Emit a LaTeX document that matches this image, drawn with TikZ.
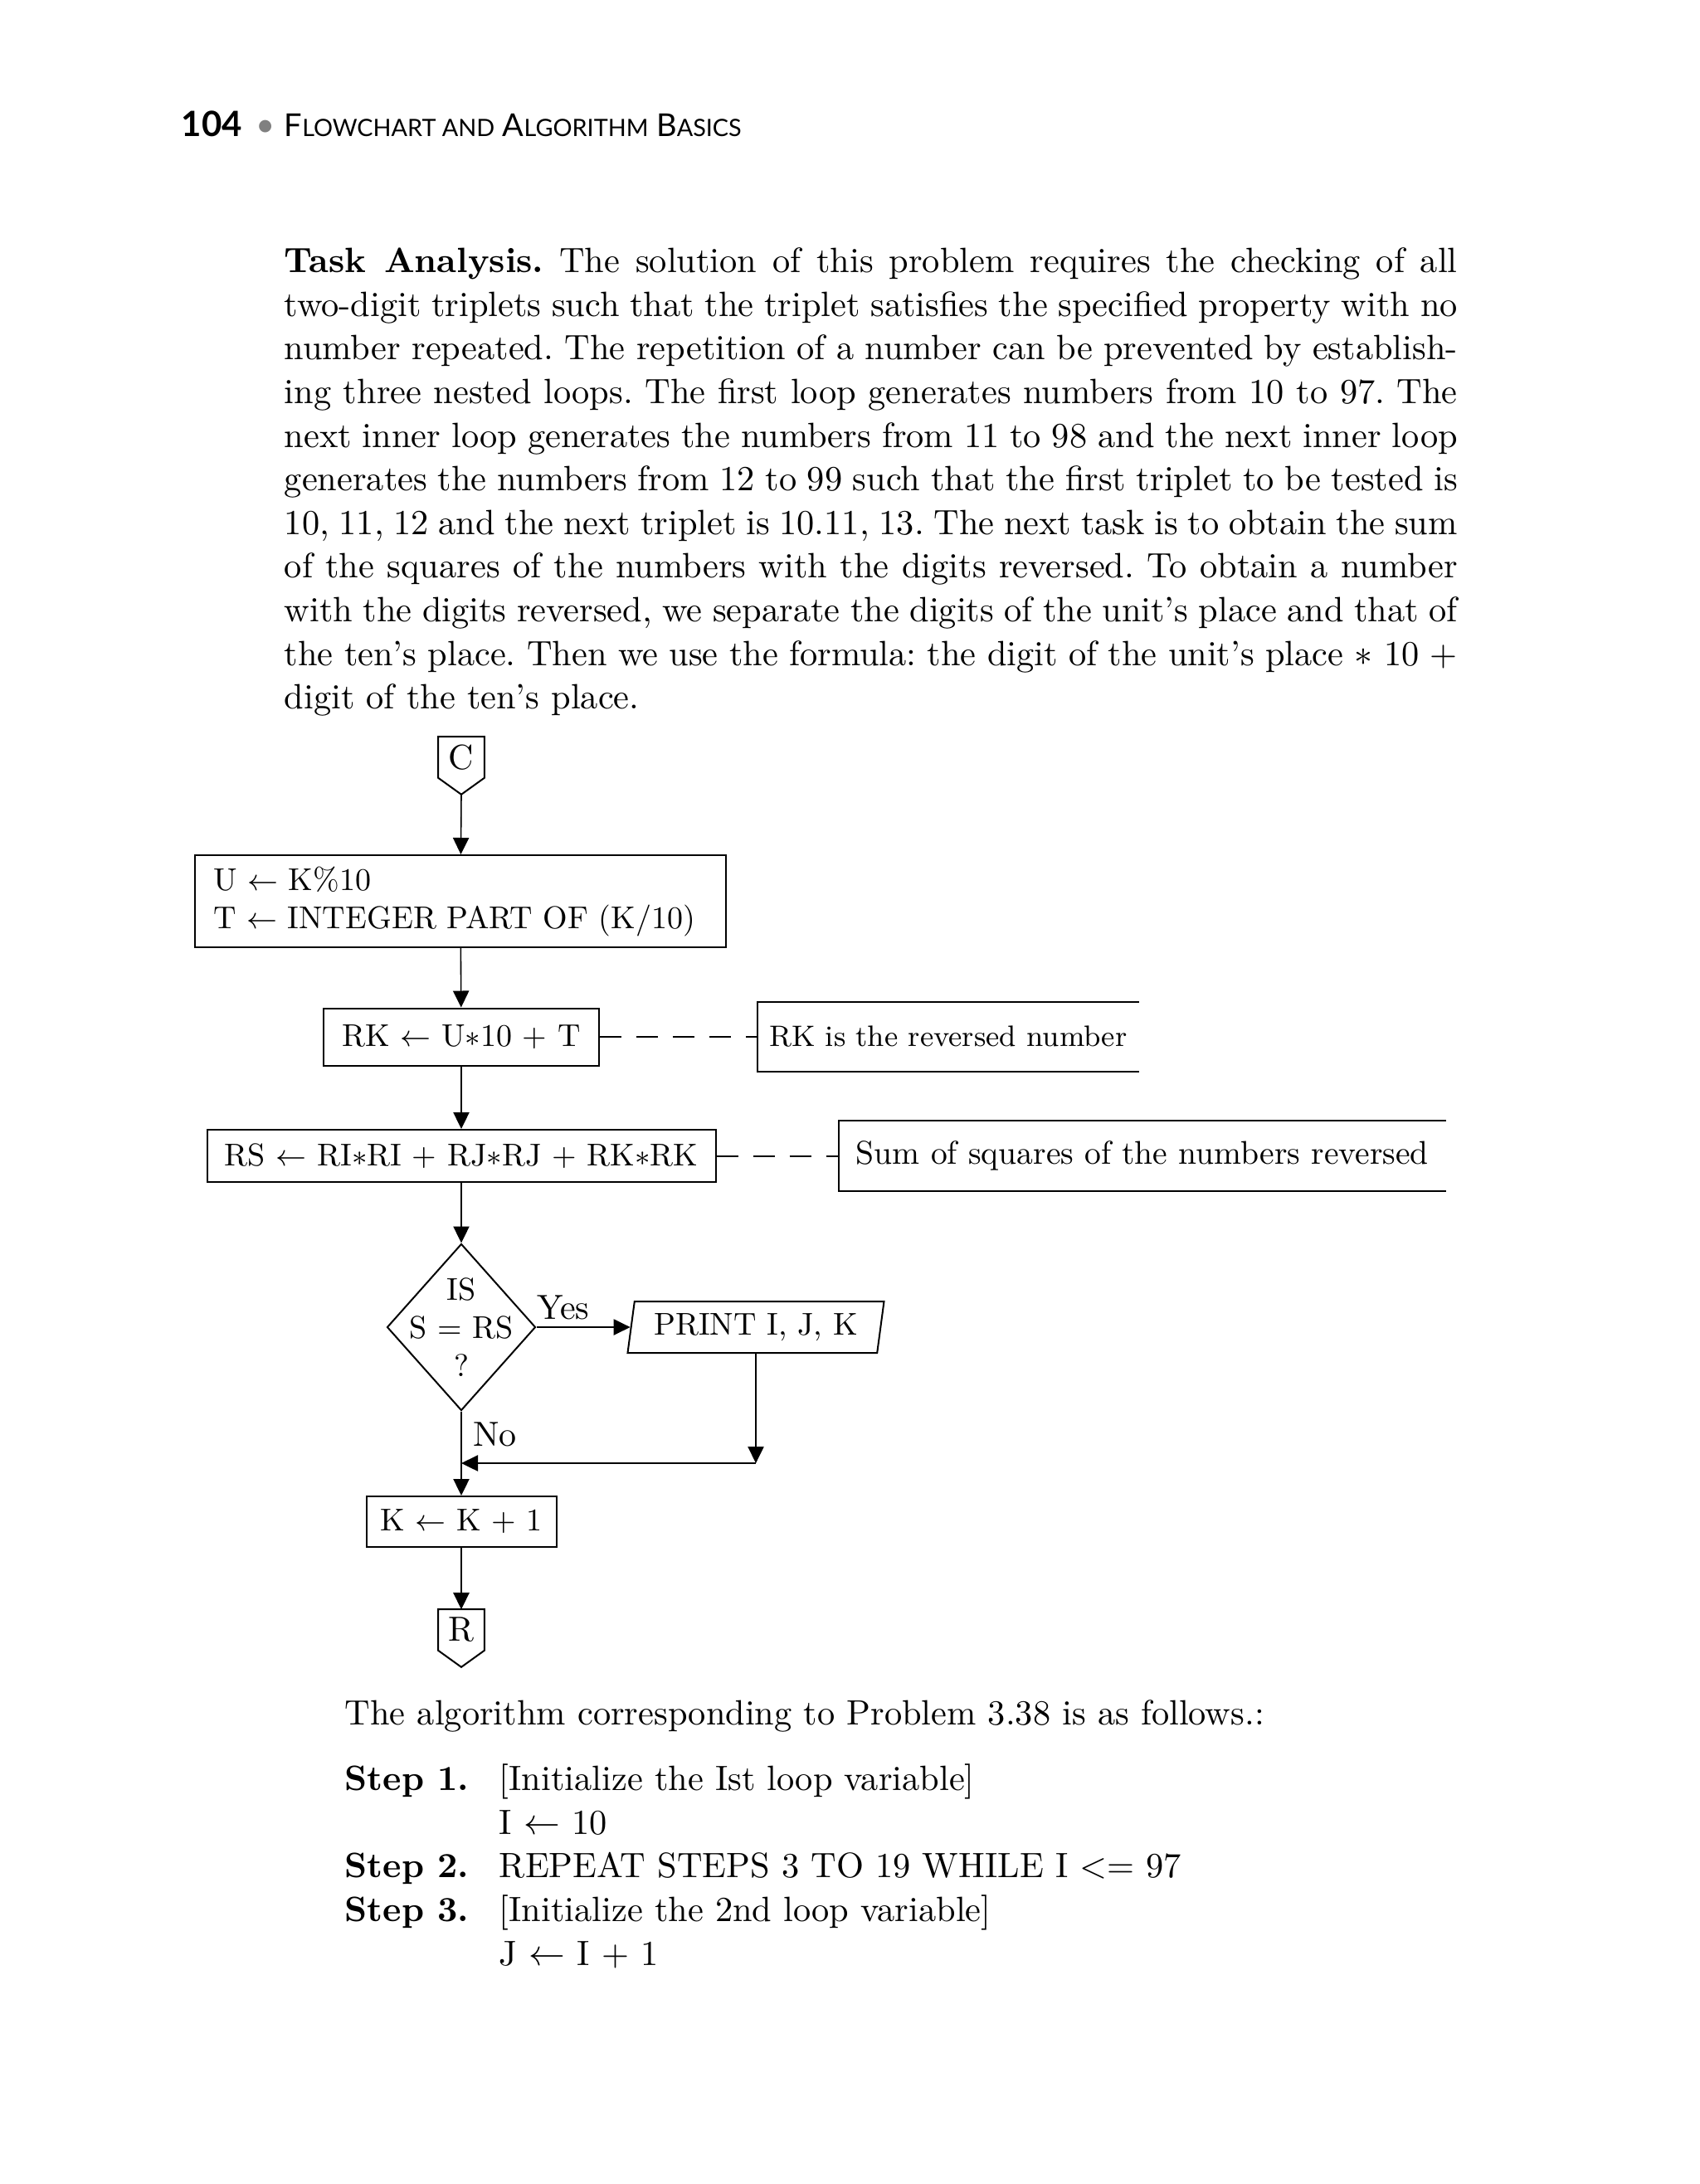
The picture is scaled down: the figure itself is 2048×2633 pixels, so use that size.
\documentclass[tikz,border=0pt]{standalone}
\usepackage{fontspec}
\usetikzlibrary{arrows.meta,shapes.geometric}
\newfontfamily\headfont{Lato}
\frenchspacing
\newcommand{\jline}[1]{\makebox[353.5pt][s]{#1}}
\newcommand{\steplabel}[1]{\makebox[46.5pt][l]{\bfseries #1}}
\newcommand{\hsc}[1]{{\fontsize{7.2}{9}\selectfont #1}}
\begin{document}
\begin{tikzpicture}[x=0.25pt,y=-0.25pt,
    body/.style={inner sep=0pt,align=left,font=\fontsize{10.6}{13.15}\selectfont},
    shapeline/.style={line width=0.5pt},
    chart/.style={font=\fontsize{9.5}{11.5}\selectfont},
    box/.style={draw,shapeline,inner sep=0pt,chart},
    conn/.style={inner sep=0pt,minimum width=13.5pt,minimum height=12pt,font=\fontsize{10.5}{11.5}\selectfont},
    decision/.style={diamond,draw,shapeline,inner sep=0pt,minimum width=44.75pt,minimum height=50.25pt},
    io/.style={trapezium,trapezium left angle=76,trapezium right angle=104,trapezium stretches body,
      draw,shapeline,inner sep=0pt,minimum width=77.25pt,minimum height=15.5pt,chart},
    note/.style={inner sep=0pt,font=\fontsize{9.9}{11.5}\selectfont},
    arr/.style={line width=0.4pt,-{Triangle[length=5pt,width=4.8pt]}},
    aside/.style={line width=0.5pt,dash pattern=on 6.5pt off 4.5pt}]
    \fill[white] (0,0) rectangle (2048,2633);
    \useasboundingbox (0,0) rectangle (2048,2633);
    % Page header
    \node[anchor=base west,inner sep=0pt,font=\headfont\bfseries\fontsize{10.5}{12}\selectfont] (pnum) at (218,165) {104};
    \node[anchor=base,inner sep=0pt,text=gray,font=\headfont\fontsize{10}{12}\selectfont] (dot) at (320,165) {•};
    \node[anchor=base west,inner sep=0pt,font=\headfont\fontsize{9.5}{12}\selectfont] (title) at (342,165)
      {F\hsc{LOWCHART AND} A\hsc{LGORITHM} B\hsc{ASICS}};
    % Task analysis
    \node[body,anchor=north west] (task) at (342,298) {%
      \jline{\textbf{Task Analysis.} The solution of this problem requires the checking of all}\\
      \jline{two-digit triplets such that the triplet satisfies the specified property with no}\\
      \jline{number repeated. The repetition of a number can be prevented by establish-}\\
      \jline{ing three nested loops. The first loop generates numbers from 10 to 97. The}\\
      \jline{next inner loop generates the numbers from 11 to 98 and the next inner loop}\\
      \jline{generates the numbers from 12 to 99 such that the first triplet to be tested is}\\
      \jline{10, 11, 12 and the next triplet is 10.11, 13. The next task is to obtain the sum}\\
      \jline{of the squares of the numbers with the digits reversed. To obtain a number}\\
      \jline{with the digits reversed, we separate the digits of the unit's place and that of}\\
      \jline{the ten's place. Then we use the formula: the digit of the unit's place $\ast$ 10 +}\\
      digit of the ten's place.};
    % Connector C
    \node[conn] (C) at (556,913) {C};
    \coordinate (Ct) at ([yshift=-5pt]C.south);
    \draw[shapeline] (C.north west) -- (C.north east) -- (C.south east) -- (Ct) -- (C.south west) -- cycle;
    % Digits of K
    \node[box,minimum width=160pt,minimum height=27.75pt,text width=149pt,align=left] (split) at (555,1086.5)
      {U $\leftarrow$ K\%10\\T $\leftarrow$ INTEGER PART OF (K/10)};
    % Reversed number
    \node[box,minimum width=83pt,minimum height=17.25pt] (rev) at (556,1250) {RK $\leftarrow$ U$\ast$10 + T};
    \node[note,font=\fontsize{8.9}{11.5}\selectfont,minimum width=114.5pt,minimum height=20.5pt,anchor=west] (revnote) at (913,1250) {RK is the reversed number};
    \draw[shapeline] (revnote.north east) -- (revnote.north west) -- (revnote.south west) -- (revnote.south east);
    \draw[aside] (rev) -- (revnote);
    % Sum of squares
    \node[box,minimum width=153.25pt,minimum height=15.75pt] (sq) at (556,1393.5) {RS $\leftarrow$ RI$\ast$RI + RJ$\ast$RJ + RK$\ast$RK};
    \node[note,minimum width=182.5pt,minimum height=20.75pt,anchor=west] (sqnote) at (1011,1393.5) {Sum of squares of the numbers reversed};
    \draw[shapeline] (sqnote.north east) -- (sqnote.north west) -- (sqnote.south west) -- (sqnote.south east);
    \draw[aside] (sq) -- (sqnote);
    % Test and print
    \node[decision,label={[chart,align=center]center:{IS\\S = RS\\?}}] (test) at (556,1600) {};
    \node[io] (print) at (911,1600) {PRINT I, J, K};
    \coordinate (join) at ([yshift=-33pt]print.south);
    % Next K
    \node[box,minimum width=57.25pt,minimum height=15.25pt] (nextk) at (556,1834.5) {K $\leftarrow$ K + 1};
    % Connector R
    \node[conn] (R) at (556,1965) {R};
    \coordinate (Rt) at ([yshift=-5pt]R.south);
    \draw[shapeline] (R.north west) -- (R.north east) -- (R.south east) -- (Rt) -- (R.south west) -- cycle;
    % Flow
    \draw[arr] (Ct) -- (split);
    \draw[arr] (split) -- (rev);
    \draw[arr] (rev) -- (sq);
    \draw[arr] (sq) -- (test);
    \draw[arr] (test) -- node[pos=0,anchor=south west,inner xsep=0pt,inner ysep=2pt,font=\fontsize{10.5}{11.5}\selectfont]{Yes} (print);
    \draw[arr] (print.south) -- (join);
    \draw[arr] (join) -- (join -| test.south);
    \draw[arr] (test) -- node[pos=0.27,right,font=\fontsize{10.5}{11.5}\selectfont]{No} (nextk);
    \draw[arr] (nextk) -- (R);
    % Algorithm
    \node[body,anchor=north west] (algo) at (415,2049) {The algorithm corresponding to Problem 3.38 is as follows.:};
    \node[body,anchor=north west] (steps) at (415,2126) {%
      \steplabel{Step 1.}[Initialize the Ist loop variable]\\
      \steplabel{}I $\leftarrow$ 10\\
      \steplabel{Step 2.}REPEAT STEPS 3 TO 19 WHILE I <= 97\\
      \steplabel{Step 3.}[Initialize the 2nd loop variable]\\
      \steplabel{}J $\leftarrow$ I + 1};
\end{tikzpicture}
\end{document}
